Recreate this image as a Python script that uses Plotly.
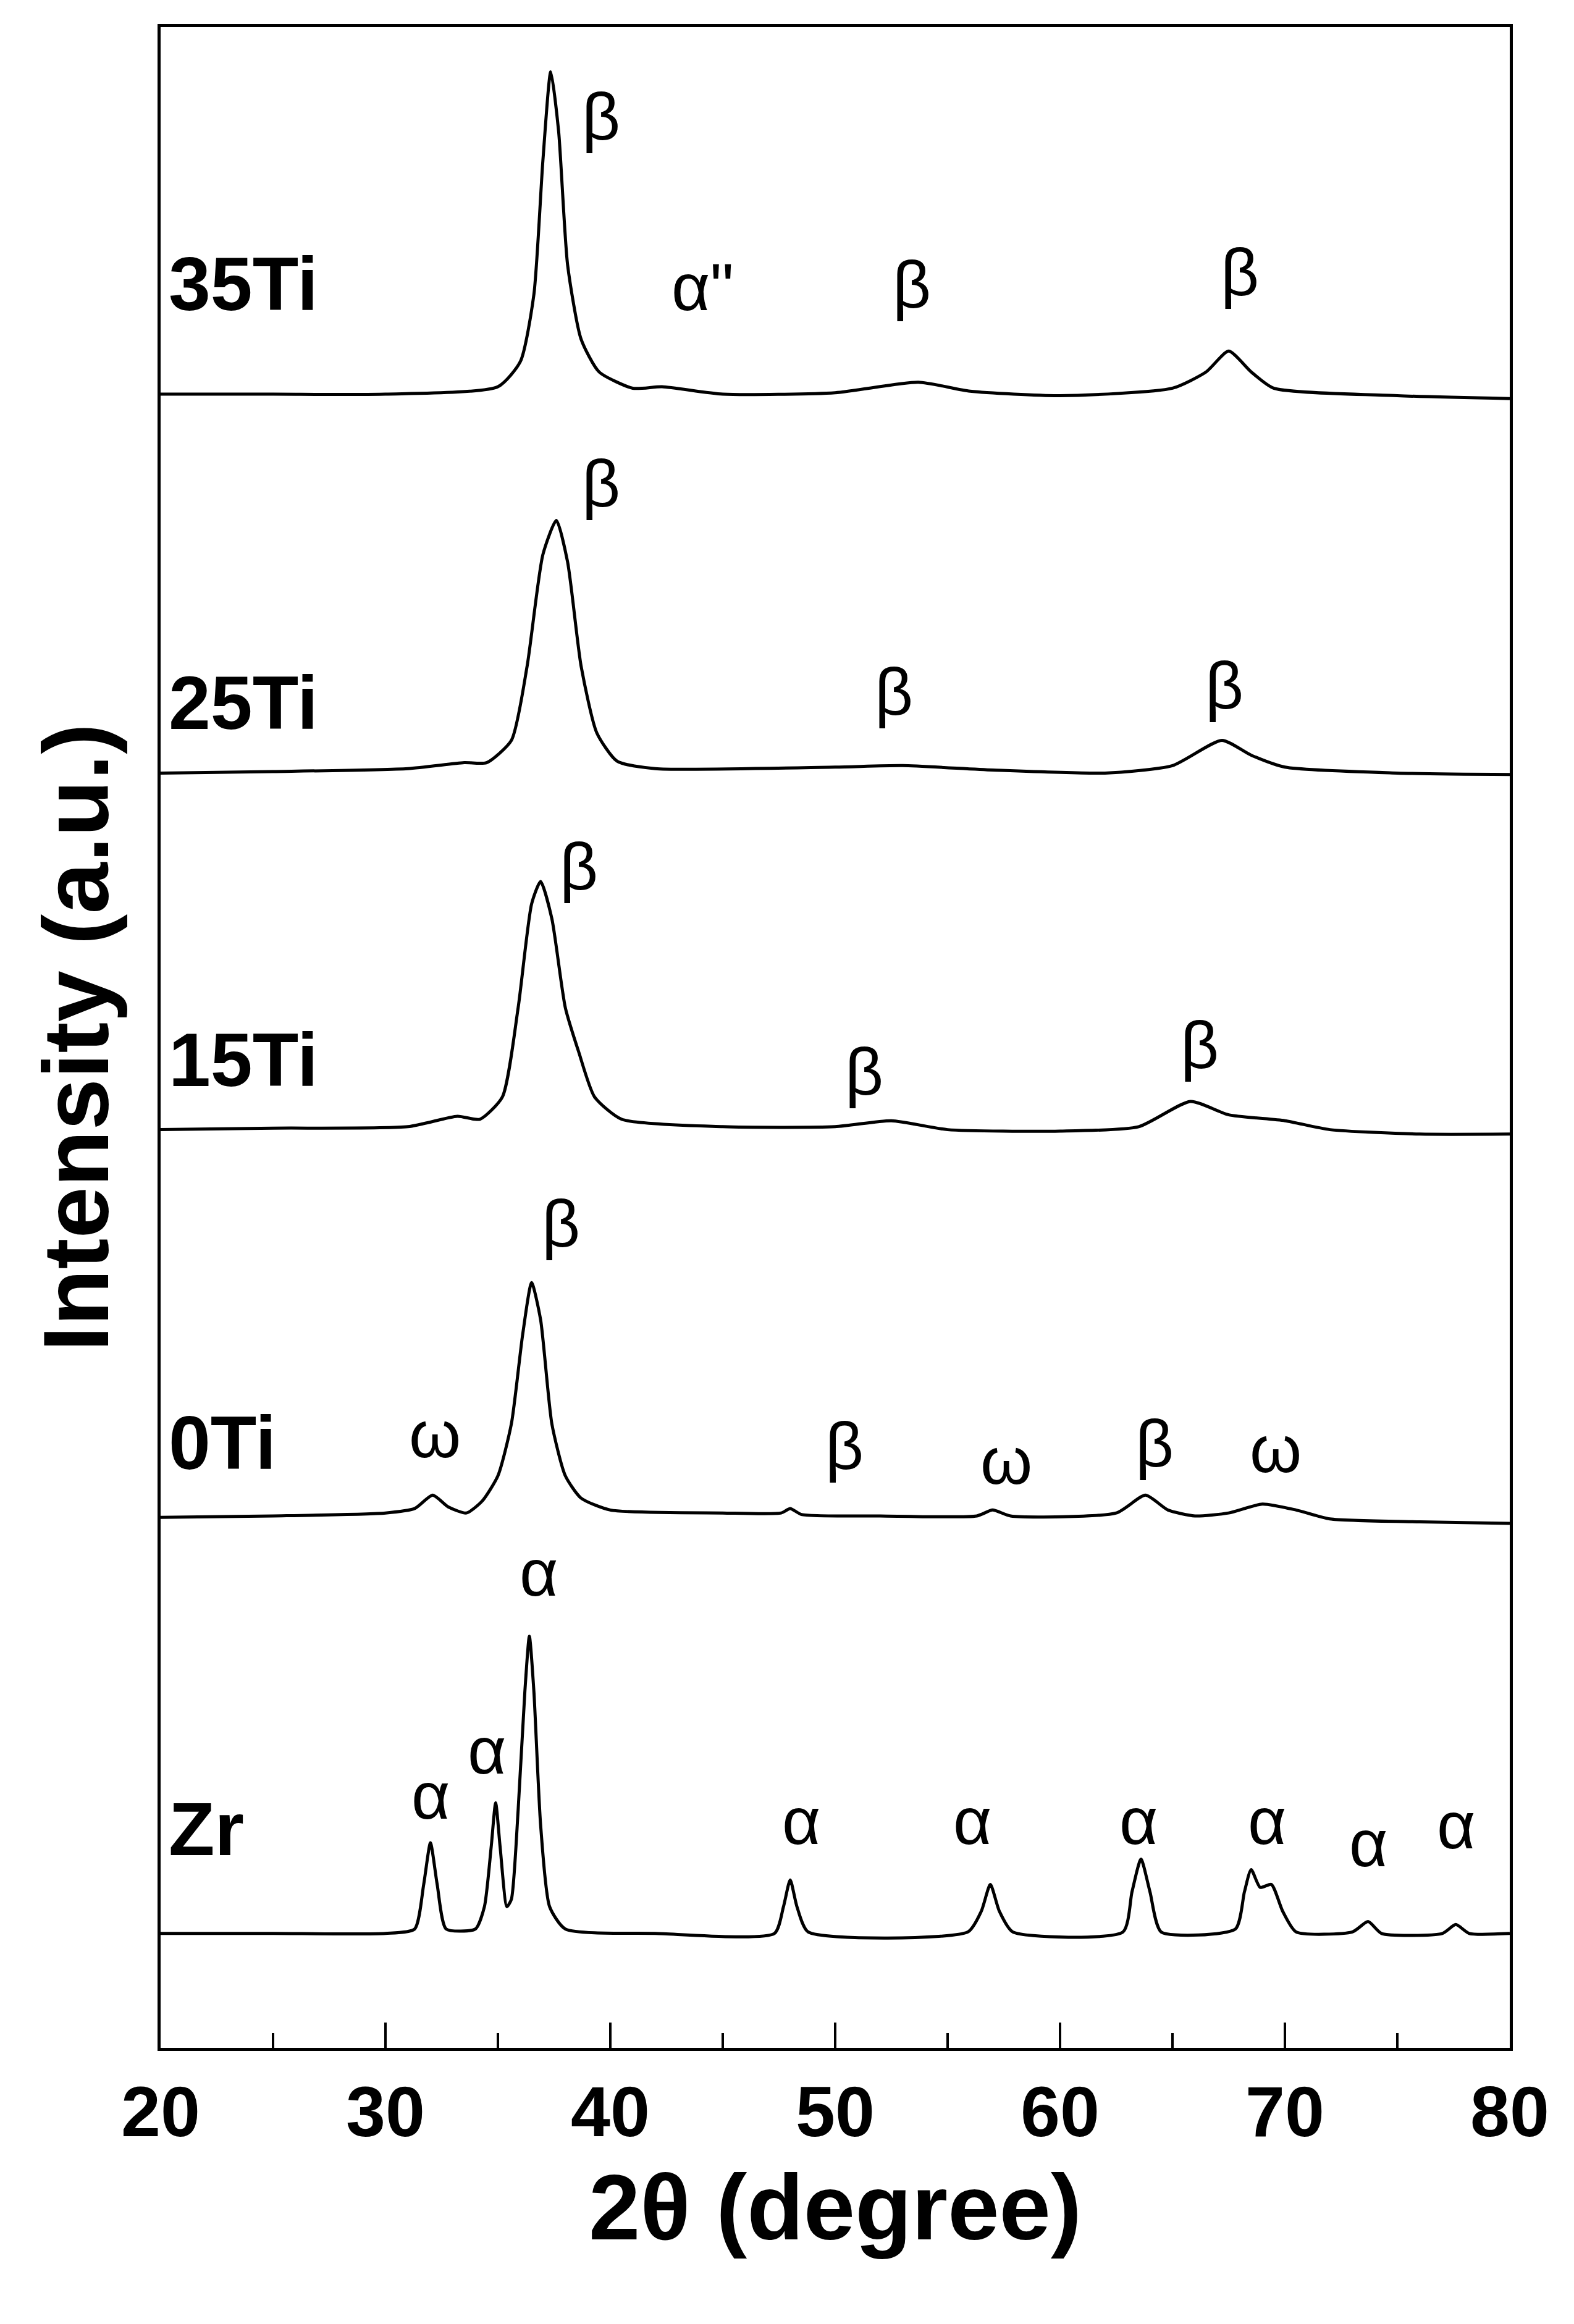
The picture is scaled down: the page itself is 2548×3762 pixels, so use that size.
import plotly.graph_objects as go

# (2theta, intensity a.u.) points
zr = [(20,77),(25,77),(30,77),(31.3,80),(31.7,110),(32.0,138),(32.3,110),(32.7,80),(34,80),(34.4,95),(34.7,135),(34.9,165),(35.1,135),(35.4,95),(35.6,100),(35.9,160),(36.2,240),(36.4,277),(36.6,240),(36.9,150),(37.3,95),(38,80),(42,77),(47.3,77),(47.7,95),(48.0,113),(48.3,95),(48.8,78),(55.9,78),(56.5,92),(56.9,110),(57.3,92),(57.9,78),(62.8,78),(63.2,105),(63.6,127),(64.0,105),(64.5,78),(67.8,80),(68.2,105),(68.5,120),(68.9,108),(69.4,110),(69.9,92),(70.5,78),(73,78),(73.7,85),(74.3,77),(77,77),(77.6,83),(78.2,77),(80,77)]
ti0 = [(20,357),(25,358),(30,360),(31.3,363),(32.1,372),(32.8,364),(33.6,360),(34.3,368),(35.0,385),(35.6,420),(36.1,480),(36.5,515),(36.9,490),(37.4,420),(38.0,385),(38.7,370),(40,362),(45,360),(47.6,360),(48.0,363),(48.5,359),(52,358),(56.3,358),(57.0,362),(57.8,358),(62.5,360),(63.8,372),(64.8,362),(66,358),(67.5,360),(69.0,366),(70.5,362),(72,356),(76,354),(80,353)]
ti15 = [(20,618),(25,619),(31,620),(33.2,627),(34.2,625),(35.2,640),(35.9,700),(36.5,770),(36.9,785),(37.4,760),(38.0,700),(38.6,670),(39.3,640),(40.5,625),(45,620),(50,620),(52.5,624),(55,618),(60,617),(63.5,620),(65.8,637),(67.5,628),(70,624),(72,618),(76,615),(80,615)]
ti25 = [(20,858),(25,859),(31,861),(33.5,865),(34.5,865),(35.6,880),(36.3,930),(37.0,1005),(37.6,1028),(38.1,1000),(38.7,930),(39.4,885),(40.3,866),(42,861),(50,862),(53,863),(57,860),(62,858),(65,863),(67.2,880),(68.5,870),(70,862),(75,858),(80,857)]
ti35 = [(20,1113),(25,1113),(30,1113),(35,1118),(36.0,1135),(36.6,1180),(37.0,1270),(37.35,1330),(37.7,1290),(38.1,1200),(38.7,1150),(39.5,1128),(41,1117),(42.3,1118),(45,1113),(50,1114),(53.7,1121),(56,1115),(60,1112),(65,1117),(66.5,1128),(67.5,1142),(68.5,1128),(69.5,1117),(75,1112),(80,1110)]

sample_names = ["35Ti", "25Ti", "15Ti", "0Ti", "Zr"]
sample_label_y = [1187, 905, 665, 407, 147]

phase_labels = [("β",39.6,1300),("α\"",44.1,1185),("β",53.4,1187),("β",68.0,1195),
                ("β",39.6,1053),("β",52.6,913),("β",67.3,917),
                ("β",38.6,795),("β",51.3,657),("β",66.2,675),
                ("ω",32.2,413),("β",37.8,555),("β",50.4,405),("ω",57.6,395),("β",64.2,407),("ω",69.6,403),
                ("α",32.0,170),("α",34.5,200),("α",36.8,320),("α",48.5,153),("α",56.1,153),("α",63.5,153),("α",69.2,153),("α",73.7,138),("α",77.6,150)]

fig = go.Figure()
for s in [zr, ti0, ti15, ti25, ti35]:
    fig.add_trace(go.Scatter(x=[p[0] for p in s], y=[p[1] for p in s], mode="lines",
                             line=dict(color="black", width=5, shape="spline", smoothing=0.6),
                             showlegend=False))

for name, y in zip(sample_names, sample_label_y):
    fig.add_annotation(x=20.3, y=y, text=f"<b>{name}</b>", showarrow=False, xanchor="left",
                       font=dict(family="Liberation Sans", size=122, color="black"))
for t, x, y in phase_labels:
    fig.add_annotation(x=x, y=y, text=t, showarrow=False,
                       font=dict(family="Liberation Sans", size=108, color="black"))

fig.update_layout(
    width=2548, height=3762, plot_bgcolor="white", paper_bgcolor="white",
    margin=dict(l=252, r=112, t=36, b=455),
    font=dict(family="Liberation Sans", color="black"),
)
fig.update_xaxes(range=[20, 80], showline=True, linewidth=5, linecolor="black", mirror=True,
                 ticks="inside", ticklen=41, tickwidth=4, tickcolor="black", dtick=10, tick0=20,
                 tickvals=[20, 30, 40, 50, 60, 70, 80],
                 ticktext=["<b>20</b>", "<b>30</b>", "<b>40</b>", "<b>50</b>", "<b>60</b>", "<b>70</b>", "<b>80</b>"],
                 minor=dict(ticks="inside", ticklen=24, tickwidth=4, dtick=5, tickcolor="black"),
                 showgrid=False, zeroline=False,
                 tickfont=dict(size=115, family="Liberation Sans", color="black"),
                 title=dict(text="<b>2θ (degree)</b>", font=dict(size=150, family="Liberation Sans"), standoff=40))
fig.update_yaxes(range=[0, 1360], showline=True, linewidth=5, linecolor="black", mirror=True,
                 showticklabels=False, ticks="", showgrid=False, zeroline=False,
                 title=dict(text="<b>Intensity (a.u.)</b>", font=dict(size=150, family="Liberation Sans"), standoff=30))
fig.write_html("out.html")
